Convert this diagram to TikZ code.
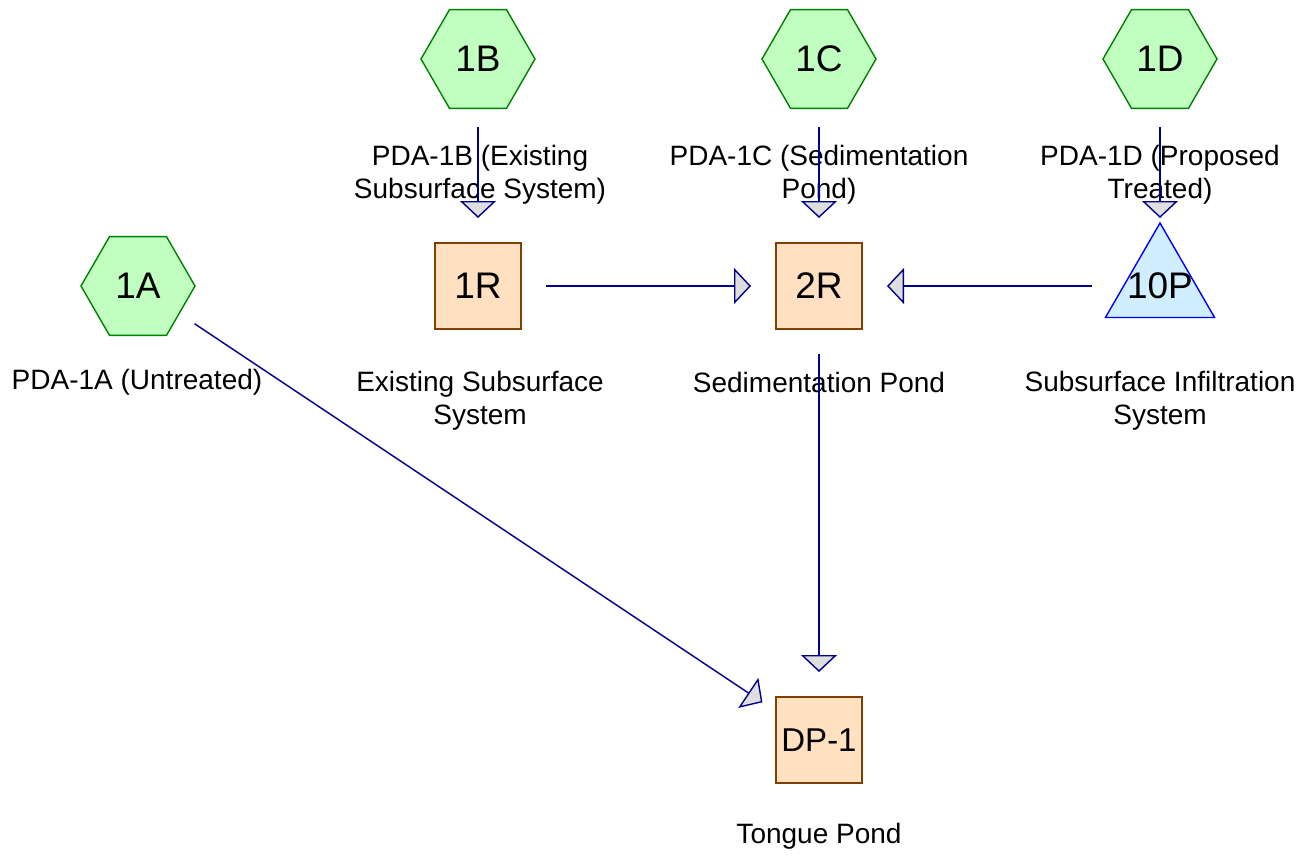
\documentclass[tikz,border=0pt]{standalone}
\usepackage{fontspec}
\setmainfont{Liberation Sans}
\usetikzlibrary{arrows.meta,shapes.geometric}
\definecolor{subfill}{RGB}{192,255,192}
\definecolor{subedge}{RGB}{0,128,0}
\definecolor{reachfill}{RGB}{255,224,192}
\definecolor{reachedge}{RGB}{128,64,0}
\definecolor{pondfill}{RGB}{208,238,255}
\definecolor{pondedge}{RGB}{0,0,255}
\definecolor{flowblue}{RGB}{0,0,139}

\begin{document}
\begin{tikzpicture}[x=1pt,y=-1pt,
  bigtxt/.style={font=\fontsize{37}{37}\selectfont},
  subcat/.style={regular polygon,regular polygon sides=6,minimum size=114pt,inner sep=0pt,draw=subedge,fill=subfill,line width=1.4pt,bigtxt},
  reachbox/.style={rectangle,minimum size=86pt,inner sep=0pt,draw=reachedge,fill=reachfill,line width=1.8pt,bigtxt},
  pondtri/.style={regular polygon,regular polygon sides=3,minimum size=126pt,inner sep=0pt,draw=pondedge,fill=pondfill,line width=1.4pt},
  lbl/.style={align=center,inner sep=0pt,font=\fontsize{28}{33}\selectfont},
  flow/.style={draw=flowblue,line width=1.4pt,shorten <=68pt,shorten >=68pt,-{Triangle[length=17pt,width=36pt,fill=black!13]}}]
\useasboundingbox (0,0) rectangle (1315,855);
\foreach \n/\x/\y in {A/138/286,B/478/59,C/819/59,D/1160/59}{
  \node[subcat] (s\n) at (\x,\y) {1\n};
}
\node[reachbox] (rOne) at (478,286) {1R};
\node[reachbox] (rTwo) at (819,286) {2R};
\node[pondtri,label={[bigtxt]center:10P}] (pTen) at (1160,286) {};
\node[reachbox,font=\fontsize{33}{33}\selectfont] (dpOne) at (819,740) {DP-1};
% labels
\node[lbl] (lA) at (137,382) {PDA-1A (Untreated)};
\node[lbl] (lB) at (480,175) {PDA-1B (Existing\\Subsurface System)};
\node[lbl] (lC) at (819,175) {PDA-1C (Sedimentation\\Pond)};
\node[lbl] (lD) at (1160,175) {PDA-1D (Proposed\\Treated)};
\node[lbl] (lOne) at (480,401) {Existing Subsurface\\System};
\node[lbl] (lTwo) at (819,382) {Sedimentation Pond};
\node[lbl] (lTen) at (1160,401) {Subsurface Infiltration\\System};
\node[lbl] (lDp) at (819,836) {Tongue Pond};
% routing
\draw[flow] (sB.center) -- (rOne.center);
\draw[flow] (sC.center) -- (rTwo.center);
\draw[flow] (sD.center) -- (pTen.center);
\draw[flow] (rOne.center) -- (rTwo.center);
\draw[flow] (pTen.center) -- (rTwo.center);
\draw[flow] (rTwo.center) -- (dpOne.center);
\draw[flow] (sA.center) -- (dpOne.center);
\end{tikzpicture}
\end{document}
